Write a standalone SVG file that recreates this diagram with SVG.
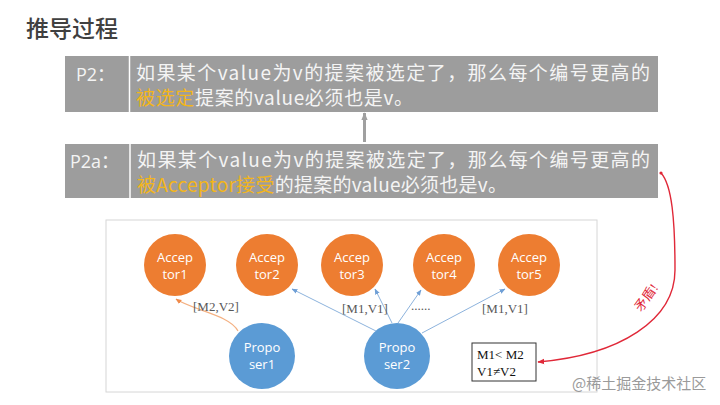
<svg xmlns="http://www.w3.org/2000/svg" width="720" height="405" viewBox="0 0 720 405">
<style>
.title{font-family:"Noto Sans CJK SC",sans-serif;font-size:23px;font-weight:500;fill:#404040}
.box{fill:#9d9d9d}
.bt{font-family:"Noto Sans CJK SC","Open Sans",sans-serif;font-size:19px;fill:#f4f4f4}
.hl{fill:#f2b51c}
.lab{font-family:"Open Sans","Noto Sans CJK SC",sans-serif;font-size:18px;fill:#f4f4f4}
.acc{fill:#ed7d31}
.pro{fill:#5b9bd5}
.nt{font-family:"Open Sans","Liberation Sans",sans-serif;font-size:13px;fill:#ffffff;text-anchor:middle}
.el{font-family:"Liberation Serif","Noto Sans CJK SC",serif;font-size:13px;fill:#595959}
.blue{fill:none;stroke:#8db3dd;stroke-width:1}
.org{fill:none;stroke:#f4b183;stroke-width:1.2}
.red{fill:none;stroke:#e02838;stroke-width:1.4}
.mt{font-family:"Liberation Serif","Noto Sans CJK SC",serif;font-size:13px;fill:#111}
</style>
<defs>
<marker id="ab" viewBox="0 0 10 10" refX="9" refY="5" markerWidth="6" markerHeight="6" orient="auto" markerUnits="userSpaceOnUse"><path d="M0,1 L10,5 L0,9 z" fill="#6f9fd6"/></marker>
<marker id="ao" viewBox="0 0 10 10" refX="9" refY="5" markerWidth="6" markerHeight="6" orient="auto" markerUnits="userSpaceOnUse"><path d="M0,1 L10,5 L0,9 z" fill="#f08a4a"/></marker>
<marker id="ar" viewBox="0 0 10 10" refX="9" refY="5" markerWidth="7" markerHeight="7" orient="auto" markerUnits="userSpaceOnUse"><path d="M0,1 L10,5 L0,9 z" fill="#e02838"/></marker>
<marker id="ag" viewBox="0 0 10 10" refX="9" refY="5" markerWidth="8" markerHeight="8" orient="auto" markerUnits="userSpaceOnUse"><path d="M0,1 L10,5 L0,9 z" fill="#a0a0a0"/></marker>
</defs>
<rect width="720" height="405" fill="#ffffff"/>
<text class="title" x="26" y="37">推导过程</text>

<g id="p2">
<rect class="box" x="65" y="56" width="593" height="56"/>
<line x1="129.5" y1="56" x2="129.5" y2="112" stroke="#ffffff" stroke-width="1.5"/>
<text class="lab" x="76" y="81">P2：</text>
<text class="bt" x="136" y="80" textLength="514" lengthAdjust="spacing">如果某个value为v的提案被选定了，那么每个编号更高的</text>
<text class="bt" x="136" y="105" textLength="277" lengthAdjust="spacing"><tspan class="hl">被选定</tspan>提案的value必须也是v。</text>
</g>

<g id="p2a">
<rect class="box" x="65" y="144" width="593" height="54"/>
<line x1="130" y1="144" x2="130" y2="198" stroke="#ffffff" stroke-width="1.5"/>
<text class="lab" x="70" y="168">P2a：</text>
<text class="bt" x="137" y="167" textLength="513" lengthAdjust="spacing">如果某个value为v的提案被选定了，那么每个编号更高的</text>
<text class="bt" x="137" y="192" textLength="370" lengthAdjust="spacing"><tspan class="hl">被Acceptor接受</tspan>的提案的value必须也是v。</text>
</g>

<rect id="frame" x="106" y="220" width="491" height="172" fill="none" stroke="#d6d6d6" stroke-width="1"/>

<g id="acceptor1"><circle class="acc" cx="175" cy="265" r="31"/><text class="nt" x="175" y="262">Accep</text><text class="nt" x="175" y="279">tor1</text></g>
<g id="acceptor2"><circle class="acc" cx="267" cy="265" r="31"/><text class="nt" x="267" y="262">Accep</text><text class="nt" x="267" y="279">tor2</text></g>
<g id="acceptor3"><circle class="acc" cx="352" cy="265" r="31"/><text class="nt" x="352" y="262">Accep</text><text class="nt" x="352" y="279">tor3</text></g>
<g id="acceptor4"><circle class="acc" cx="444" cy="265" r="31"/><text class="nt" x="444" y="262">Accep</text><text class="nt" x="444" y="279">tor4</text></g>
<g id="acceptor5"><circle class="acc" cx="529" cy="265" r="31"/><text class="nt" x="529" y="262">Accep</text><text class="nt" x="529" y="279">tor5</text></g>
<g id="proposer1"><circle class="pro" cx="262" cy="356" r="33"/><text class="nt" x="262" y="352">Propo</text><text class="nt" x="262" y="369">ser1</text></g>
<g id="proposer2"><circle class="pro" cx="397" cy="356" r="33"/><text class="nt" x="397" y="352">Propo</text><text class="nt" x="397" y="369">ser2</text></g>

<g id="note"><rect x="472" y="343" width="64" height="38" fill="#ffffff" stroke="#333" stroke-width="1"/>
<text class="mt" x="477" y="359">M1&lt; M2</text><text class="mt" x="477" y="376">V1≠V2</text></g>

<g id="connectors">
<line x1="364.5" y1="142" x2="364.5" y2="113" stroke="#a0a0a0" stroke-width="3" marker-end="url(#ag)"/>
<path class="org" d="M238,331 C230,315 192,310 176,299" marker-end="url(#ao)"/>
<line class="blue" x1="376" y1="331" x2="292" y2="289" marker-end="url(#ab)"/>
<line class="blue" x1="392" y1="323" x2="375" y2="289" marker-end="url(#ab)"/>
<line class="blue" x1="398" y1="323" x2="421" y2="290" marker-end="url(#ab)"/>
<line class="blue" x1="422" y1="333" x2="505" y2="289" marker-end="url(#ab)"/>
<path class="red" d="M661,173 C672,185 675,220 675,270 C675,320 620,355 538,362" marker-end="url(#ar)"/>
<circle cx="661" cy="173" r="1.6" fill="#e02838"/>
<text class="el" x="193" y="311">[M2,V2]</text>
<text class="el" x="342" y="313">[M1,V1]</text>
<text class="el" x="411" y="310">......</text>
<text class="el" x="482" y="313">[M1,V1]</text>
<text x="650" y="300" transform="rotate(-55 650 300)" text-anchor="middle" font-family="Liberation Serif,'Noto Sans CJK SC',serif" font-size="13" fill="#e02838">矛盾!</text>
</g>
<text x="572" y="389" font-family="'Noto Sans CJK SC',sans-serif" font-size="15" fill="#9a9a9a">@稀土掘金技术社区</text>
</svg>
